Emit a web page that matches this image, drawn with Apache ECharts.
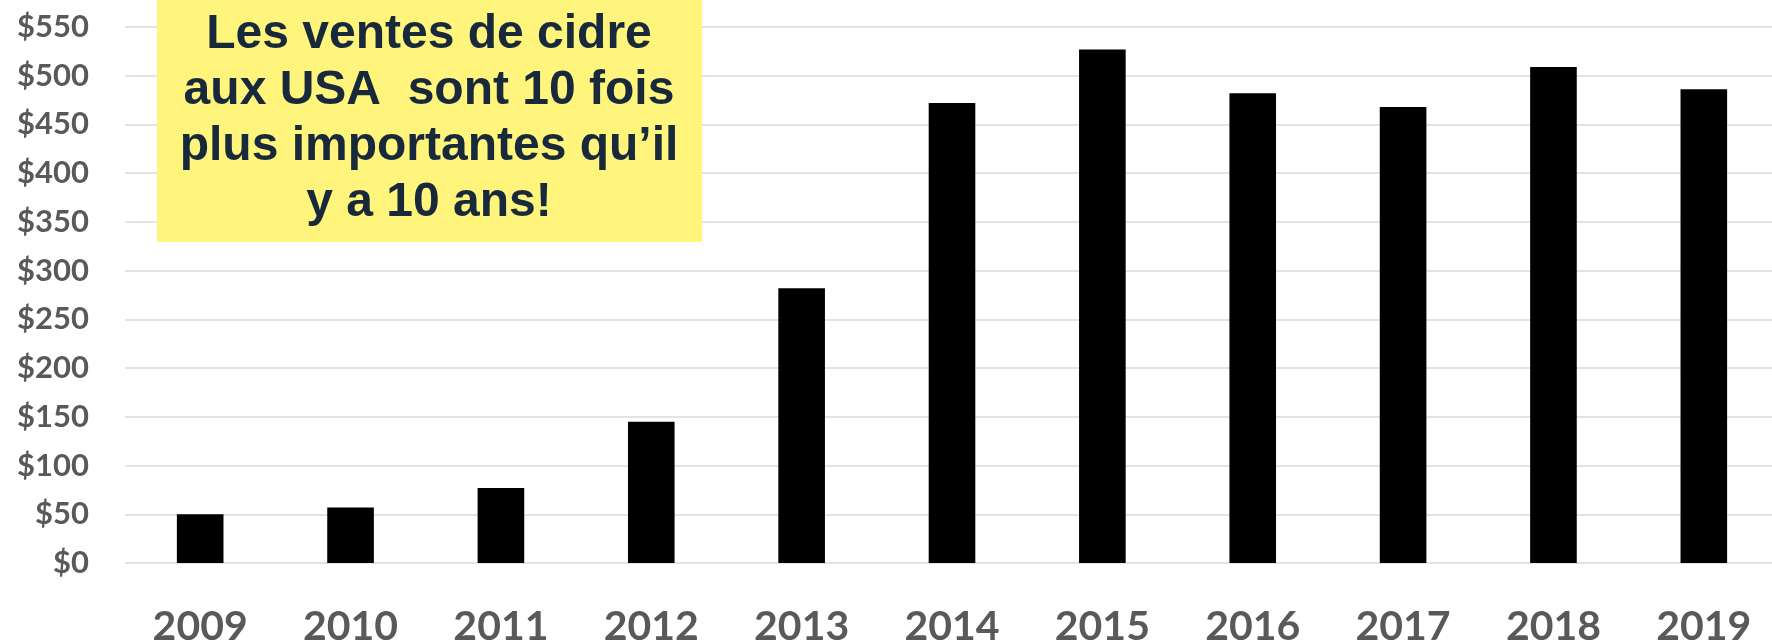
<!DOCTYPE html>
<html lang="fr">
<head>
    <meta charset="UTF-8">
    <title>Ventes de cidre USA</title>
    <script src="https://cdn.jsdelivr.net/npm/echarts@6/dist/echarts.min.js"></script>
    <style>
        html, body { margin: 0; padding: 0; background: #fff; }
        #chart { width: 1772px; height: 644px; }
    </style>
</head>
<body>
    <div id="chart"></div>
    <script>
        // data
        var years = ['2009', '2010', '2011', '2012', '2013', '2014', '2015', '2016', '2017', '2018', '2019'];
        var sales = [50, 57, 77, 145, 282, 472, 527, 482, 468, 509, 486];
        var noteLines = ['Les ventes de cidre', 'aux USA  sont 10 fois', 'plus importantes qu\u2019il', 'y a 10 ans!'];

        var myChart = echarts.init(document.getElementById('chart'));
        var option = {
            animation: false,
            grid: { left: 125, width: 1654, top: 27, bottom: 81, outerBoundsMode: 'none', containLabel: false },
            xAxis: {
                type: 'category',
                data: years,
                axisLine: { show: false },
                axisTick: { show: false },
                axisLabel: {
                    margin: 43,
                    color: '#595959',
                    fontFamily: 'Lato',
                    fontWeight: 'bold',
                    fontSize: 41
                }
            },
            yAxis: {
                type: 'value',
                min: 0,
                max: 550,
                interval: 50,
                axisLabel: {
                    margin: 36,
                    color: '#595959',
                    fontFamily: 'Lato',
                    fontWeight: 'bold',
                    fontSize: 31,
                    formatter: function (v) { return '$' + v; }
                },
                splitLine: { lineStyle: { color: '#e3e3e3', width: 2 } }
            },
            series: [{
                type: 'bar',
                data: sales,
                barWidth: '31%',
                itemStyle: { color: '#000' }
            }],
            // yellow note box, kept above the grid lines
            graphic: [{
                type: 'rect',
                left: 157,
                top: 0,
                z: 100,
                shape: { x: 0, y: 0, width: 545, height: 242 },
                style: { fill: '#fff47c' }
            }, {
                type: 'text',
                x: 429,
                y: 119,
                z: 101,
                style: {
                    text: noteLines.join('\n'),
                    align: 'center',
                    verticalAlign: 'middle',
                    fill: '#17293a',
                    font: 'bold 48px "Liberation Sans", Arial, sans-serif',
                    lineHeight: 56
                }
            }]
        };
        myChart.setOption(option);
    </script>
</body>
</html>
